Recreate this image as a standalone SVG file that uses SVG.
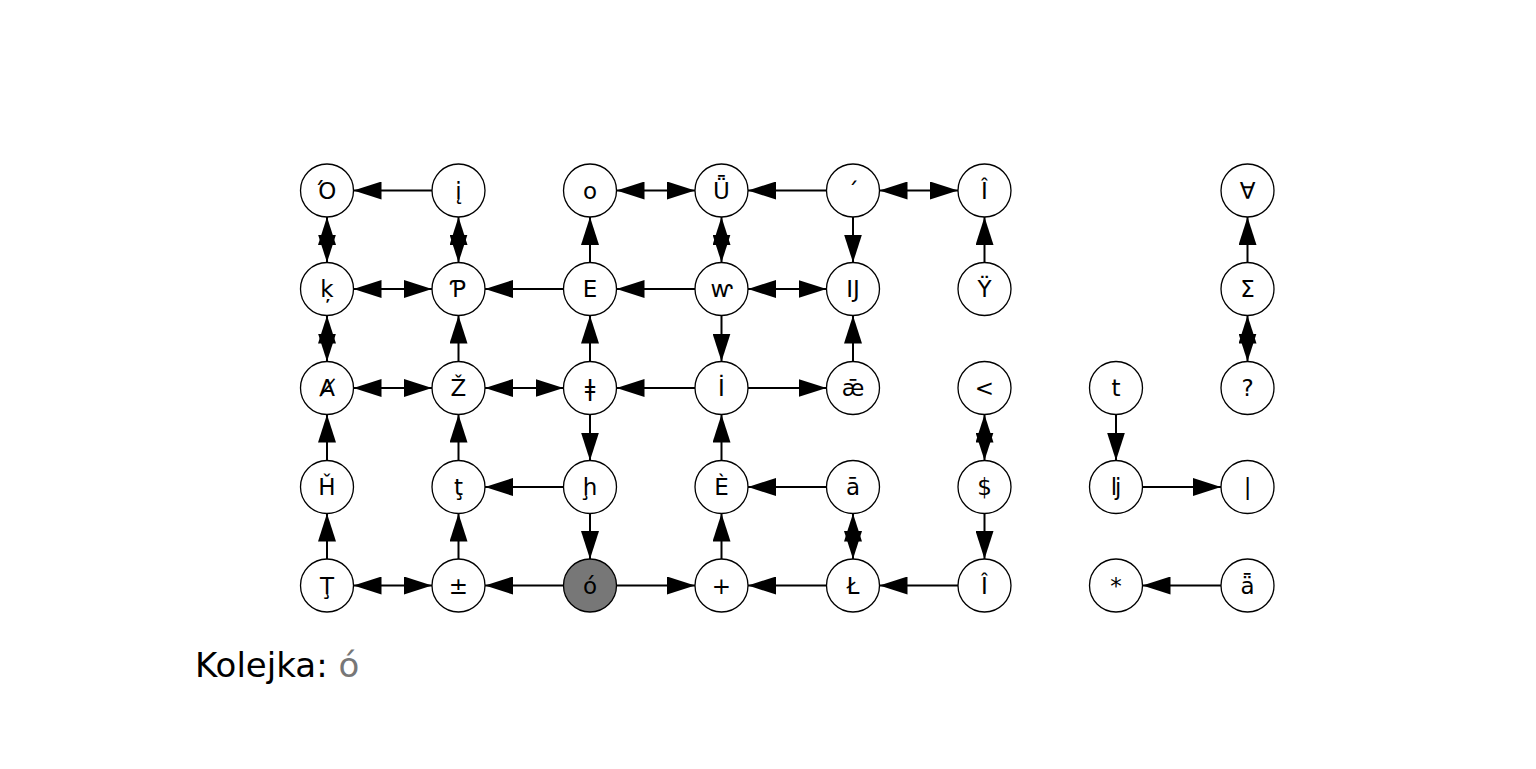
<svg xmlns="http://www.w3.org/2000/svg" width="1536" height="769" viewBox="0 0 1536 769">
<style>
.n circle{fill:#fff;stroke:#000;stroke-width:1.3}
.n text{font-family:"DejaVu Sans","Noto Sans",sans-serif;font-size:23px;text-anchor:middle;fill:#000}
#edges path{fill:none;stroke:#000;stroke-width:2}
.cur circle{fill:#777}
</style>
<defs>
<marker id="ah" markerUnits="userSpaceOnUse" markerWidth="29" markerHeight="18" refX="28" refY="9" orient="auto-start-reverse" viewBox="0 0 29 18">
<path d="M0,0 L28,9 L0,18 z" fill="#000"/>
</marker>
</defs>
<rect width="1536" height="769" fill="#fff"/>
<g id="edges">
<path d="M432,190.5 L353.5,190.5" marker-end="url(#ah)"/>
<path d="M616.5,190.5 L695,190.5" marker-start="url(#ah)" marker-end="url(#ah)"/>
<path d="M826.5,190.5 L748,190.5" marker-end="url(#ah)"/>
<path d="M879.5,190.5 L958,190.5" marker-start="url(#ah)" marker-end="url(#ah)"/>
<path d="M327,217 L327,262.5" marker-start="url(#ah)" marker-end="url(#ah)"/>
<path d="M458.5,217 L458.5,262.5" marker-start="url(#ah)" marker-end="url(#ah)"/>
<path d="M590,262.5 L590,217" marker-end="url(#ah)"/>
<path d="M721.5,217 L721.5,262.5" marker-start="url(#ah)" marker-end="url(#ah)"/>
<path d="M853,217 L853,262.5" marker-end="url(#ah)"/>
<path d="M984.5,262.5 L984.5,217" marker-end="url(#ah)"/>
<path d="M1247.5,262.5 L1247.5,217" marker-end="url(#ah)"/>
<path d="M353.5,289 L432,289" marker-start="url(#ah)" marker-end="url(#ah)"/>
<path d="M563.5,289 L485,289" marker-end="url(#ah)"/>
<path d="M695,289 L616.5,289" marker-end="url(#ah)"/>
<path d="M748,289 L826.5,289" marker-start="url(#ah)" marker-end="url(#ah)"/>
<path d="M327,315.5 L327,361.5" marker-start="url(#ah)" marker-end="url(#ah)"/>
<path d="M458.5,361.5 L458.5,315.5" marker-end="url(#ah)"/>
<path d="M590,361.5 L590,315.5" marker-end="url(#ah)"/>
<path d="M721.5,315.5 L721.5,361.5" marker-end="url(#ah)"/>
<path d="M853,361.5 L853,315.5" marker-end="url(#ah)"/>
<path d="M1247.5,315.5 L1247.5,361.5" marker-start="url(#ah)" marker-end="url(#ah)"/>
<path d="M353.5,388 L432,388" marker-start="url(#ah)" marker-end="url(#ah)"/>
<path d="M485,388 L563.5,388" marker-start="url(#ah)" marker-end="url(#ah)"/>
<path d="M695,388 L616.5,388" marker-end="url(#ah)"/>
<path d="M748,388 L826.5,388" marker-end="url(#ah)"/>
<path d="M327,460.5 L327,414.5" marker-end="url(#ah)"/>
<path d="M458.5,460.5 L458.5,414.5" marker-end="url(#ah)"/>
<path d="M590,414.5 L590,460.5" marker-end="url(#ah)"/>
<path d="M721.5,460.5 L721.5,414.5" marker-end="url(#ah)"/>
<path d="M984.5,414.5 L984.5,460.5" marker-start="url(#ah)" marker-end="url(#ah)"/>
<path d="M1116,414.5 L1116,460.5" marker-end="url(#ah)"/>
<path d="M563.5,487 L485,487" marker-end="url(#ah)"/>
<path d="M826.5,487 L748,487" marker-end="url(#ah)"/>
<path d="M1142.5,487 L1221,487" marker-end="url(#ah)"/>
<path d="M327,559 L327,513.5" marker-end="url(#ah)"/>
<path d="M458.5,559 L458.5,513.5" marker-end="url(#ah)"/>
<path d="M590,513.5 L590,559" marker-end="url(#ah)"/>
<path d="M721.5,559 L721.5,513.5" marker-end="url(#ah)"/>
<path d="M853,513.5 L853,559" marker-start="url(#ah)" marker-end="url(#ah)"/>
<path d="M984.5,513.5 L984.5,559" marker-end="url(#ah)"/>
<path d="M353.5,585.5 L432,585.5" marker-start="url(#ah)" marker-end="url(#ah)"/>
<path d="M563.5,585.5 L485,585.5" marker-end="url(#ah)"/>
<path d="M616.5,585.5 L695,585.5" marker-end="url(#ah)"/>
<path d="M826.5,585.5 L748,585.5" marker-end="url(#ah)"/>
<path d="M958,585.5 L879.5,585.5" marker-end="url(#ah)"/>
<path d="M1221,585.5 L1142.5,585.5" marker-end="url(#ah)"/>
</g>
<g id="n00" class="n"><circle cx="327" cy="190.5" r="26.5"/><text x="327" y="198.5">Ό</text></g>
<g id="n10" class="n"><circle cx="458.5" cy="190.5" r="26.5"/><text x="458.5" y="198.5">į</text></g>
<g id="n20" class="n"><circle cx="590" cy="190.5" r="26.5"/><text x="590" y="198.5">o</text></g>
<g id="n30" class="n"><circle cx="721.5" cy="190.5" r="26.5"/><text x="721.5" y="198.5">Ǖ</text></g>
<g id="n40" class="n"><circle cx="853" cy="190.5" r="26.5"/><text x="853" y="198.5">´</text></g>
<g id="n50" class="n"><circle cx="984.5" cy="190.5" r="26.5"/><text x="984.5" y="198.5">Î</text></g>
<g id="n70" class="n"><circle cx="1247.5" cy="190.5" r="26.5"/><text x="1247.5" y="198.5">∀</text></g>
<g id="n01" class="n"><circle cx="327" cy="289" r="26.5"/><text x="327" y="297">ķ</text></g>
<g id="n11" class="n"><circle cx="458.5" cy="289" r="26.5"/><text x="458.5" y="297">Ƥ</text></g>
<g id="n21" class="n"><circle cx="590" cy="289" r="26.5"/><text x="590" y="297">E</text></g>
<g id="n31" class="n"><circle cx="721.5" cy="289" r="26.5"/><text x="721.5" y="297">ⱳ</text></g>
<g id="n41" class="n"><circle cx="853" cy="289" r="26.5"/><text x="853" y="297">Ĳ</text></g>
<g id="n51" class="n"><circle cx="984.5" cy="289" r="26.5"/><text x="984.5" y="297">Ÿ</text></g>
<g id="n71" class="n"><circle cx="1247.5" cy="289" r="26.5"/><text x="1247.5" y="297">Σ</text></g>
<g id="n02" class="n"><circle cx="327" cy="388" r="26.5"/><text x="327" y="396">Ⱥ</text></g>
<g id="n12" class="n"><circle cx="458.5" cy="388" r="26.5"/><text x="458.5" y="396">Ž</text></g>
<g id="n22" class="n"><circle cx="590" cy="388" r="26.5"/><text x="590" y="396">ǂ</text></g>
<g id="n32" class="n"><circle cx="721.5" cy="388" r="26.5"/><text x="721.5" y="396">İ</text></g>
<g id="n42" class="n"><circle cx="853" cy="388" r="26.5"/><text x="853" y="396">ǣ</text></g>
<g id="n52" class="n"><circle cx="984.5" cy="388" r="26.5"/><text x="984.5" y="396">&lt;</text></g>
<g id="n62" class="n"><circle cx="1116" cy="388" r="26.5"/><text x="1116" y="396">t</text></g>
<g id="n72" class="n"><circle cx="1247.5" cy="388" r="26.5"/><text x="1247.5" y="396">?</text></g>
<g id="n03" class="n"><circle cx="327" cy="487" r="26.5"/><text x="327" y="495">Ȟ</text></g>
<g id="n13" class="n"><circle cx="458.5" cy="487" r="26.5"/><text x="458.5" y="495">ţ</text></g>
<g id="n23" class="n"><circle cx="590" cy="487" r="26.5"/><text x="590" y="495">ḩ</text></g>
<g id="n33" class="n"><circle cx="721.5" cy="487" r="26.5"/><text x="721.5" y="495">È</text></g>
<g id="n43" class="n"><circle cx="853" cy="487" r="26.5"/><text x="853" y="495">ā</text></g>
<g id="n53" class="n"><circle cx="984.5" cy="487" r="26.5"/><text x="984.5" y="495">$</text></g>
<g id="n63" class="n"><circle cx="1116" cy="487" r="26.5"/><text x="1116" y="495">ǉ</text></g>
<g id="n73" class="n"><circle cx="1247.5" cy="487" r="26.5"/><text x="1247.5" y="495">|</text></g>
<g id="n04" class="n"><circle cx="327" cy="585.5" r="26.5"/><text x="327" y="593.5">Ţ</text></g>
<g id="n14" class="n"><circle cx="458.5" cy="585.5" r="26.5"/><text x="458.5" y="593.5">±</text></g>
<g id="n24" class="n cur"><circle cx="590" cy="585.5" r="26.5"/><text x="590" y="593.5">ó</text></g>
<g id="n34" class="n"><circle cx="721.5" cy="585.5" r="26.5"/><text x="721.5" y="593.5">+</text></g>
<g id="n44" class="n"><circle cx="853" cy="585.5" r="26.5"/><text x="853" y="593.5">Ł</text></g>
<g id="n54" class="n"><circle cx="984.5" cy="585.5" r="26.5"/><text x="984.5" y="593.5">Î</text></g>
<g id="n64" class="n"><circle cx="1116" cy="585.5" r="26.5"/><text x="1116" y="593.5">*</text></g>
<g id="n74" class="n"><circle cx="1247.5" cy="585.5" r="26.5"/><text x="1247.5" y="593.5">ǟ</text></g>
<g id="queue"><text x="195" y="677" font-family="DejaVu Sans, sans-serif" font-size="34" fill="#000">Kolejka: <tspan fill="#777">ó</tspan></text></g>
</svg>
